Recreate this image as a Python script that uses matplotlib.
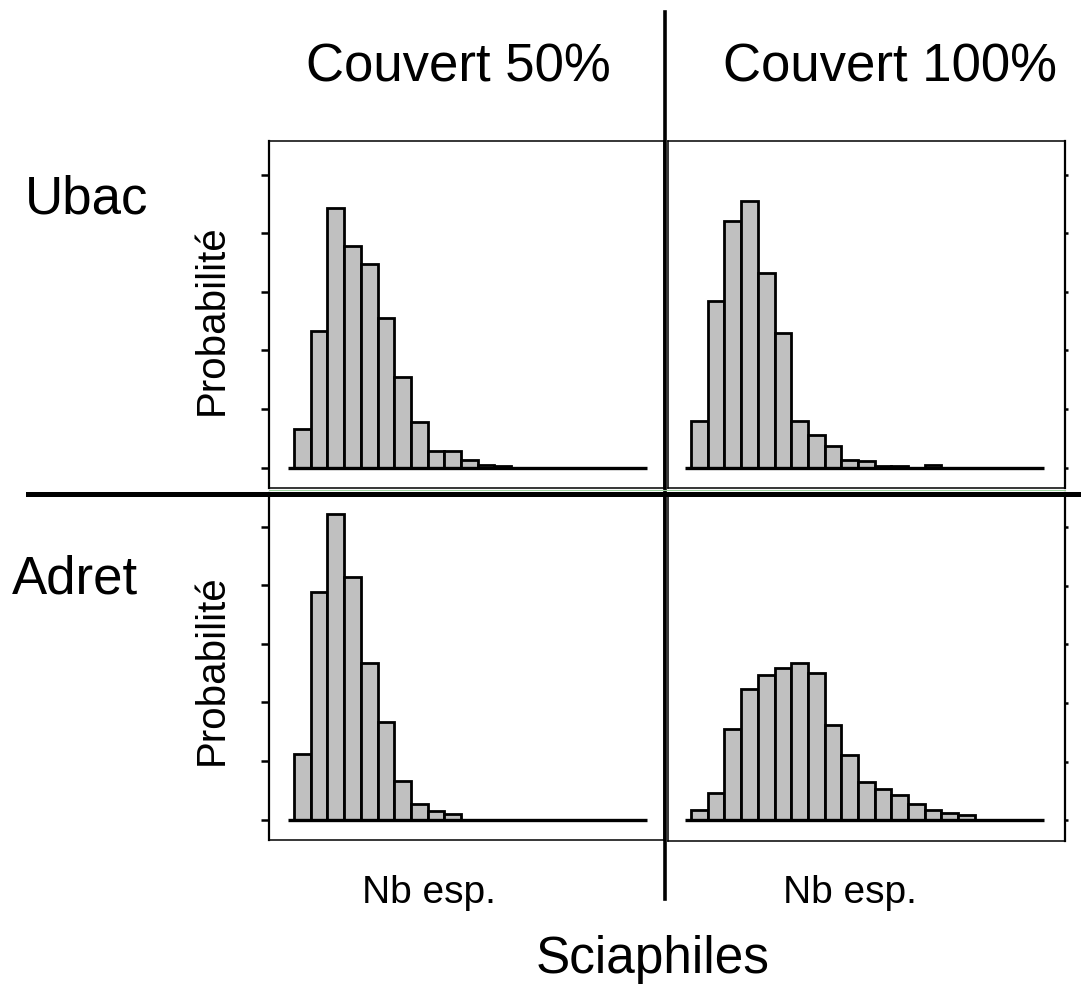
# ---------- IMPORT ------------
import matplotlib
matplotlib.use("Agg")
import matplotlib.pyplot as plt
from matplotlib.lines import Line2D
# ------------------------------


# ---------- DATA --------------
# probability per class of species number (%)
ubac_50 = [3.3, 11.7, 22.2, 18.9, 17.4, 12.8, 7.7, 3.9, 1.4, 1.4, 0.6, 0.2, 0.15]
ubac_100 = [4.0, 14.2, 21.1, 22.8, 16.6, 11.5, 4.0, 2.8, 1.8, 0.65, 0.55, 0.15, 0.15, 0.0, 0.2]
adret_50 = [5.6, 19.4, 26.1, 20.7, 13.4, 8.3, 3.3, 1.35, 0.75, 0.45]
adret_100 = [0.9, 2.35, 7.8, 11.2, 12.4, 13.0, 13.4, 12.6, 8.1, 5.55, 3.3, 2.7, 2.15, 1.4, 0.9, 0.6, 0.45]

col_titles = ["Couvert 50%", "Couvert 100%"]
row_titles = ["Ubac", "Adret"]
y_ticks = [0, 5, 10, 15, 20, 25]
# ------------------------------


# ---------- CONFIG ------------
W, H = 1081, 984
bar_color = "#c0c0c0"
font = "Liberation Sans"
plt.rcParams["font.family"] = [font, "DejaVu Sans"]
# ------------------------------


def fx(px):
    return px / W


def fy(py):
    return 1 - py / H


fig = plt.figure(figsize=(W / 100, H / 100), dpi=100)

# (values, box in pixels: left, top, right, bottom, tick side, xlim)
panels = [
    (ubac_50, (269, 141, 664, 488), "left", (-1.5, 22.15)),
    (ubac_100, (668, 141, 1065, 488), "right", (-1.38, 22.4)),
    (adret_50, (269, 493, 664, 840), "left", (-1.5, 22.15)),
    (adret_100, (668, 493, 1065, 841), "right", (-1.38, 22.4)),
]

for vals, (l, t, r, b), side, xl in panels:
    ax = fig.add_axes([fx(l), fy(b), (r - l) / W, (b - t) / H])
    ax.bar(range(len(vals)), vals, width=1, align="edge", color=bar_color,
           edgecolor="black", linewidth=2.0, zorder=2)
    ax.hlines(0, -0.35, 21.15, color="black", linewidth=2.4, zorder=3)
    ax.set_xlim(*xl)
    ax.set_ylim(-1.75, 27.9)
    ax.set_xticks([])
    ax.set_yticks(y_ticks)
    ax.set_yticklabels([])
    for s in ax.spines.values():
        s.set_linewidth(1.1)
    if side == "left":
        ax.spines["left"].set_linewidth(1.6)
        ax.tick_params(axis="y", left=True, right=False, direction="out",
                       length=5.8, width=1.8, labelleft=False)
    else:
        ax.spines["right"].set_linewidth(1.6)
        ax.tick_params(axis="y", left=False, right=True, direction="out",
                       length=2.5, width=1.8, labelleft=False, labelright=False)

# separators
fig.add_artist(Line2D([fx(665), fx(665)], [fy(12), fy(899)], color="black",
                      linewidth=2.6, transform=fig.transFigure))
fig.add_artist(Line2D([fx(269), fx(1065)], [fy(489.5), fy(489.5)], color="#9ccf9c",
                      linewidth=0.8, transform=fig.transFigure))
fig.add_artist(Line2D([fx(28), fx(1081)], [fy(494), fy(494)], color="black",
                      linewidth=3.6, transform=fig.transFigure))

# texts
fig.text(fx(458), fy(82), col_titles[0], fontsize=38, ha="center", va="baseline")
fig.text(fx(890), fy(82), col_titles[1], fontsize=38, ha="center", va="baseline")
fig.text(fx(25), fy(213), row_titles[0], fontsize=38, ha="left", va="baseline")
fig.text(fx(12), fy(593), row_titles[1], fontsize=38, ha="left", va="baseline")
for yc in (320, 670):
    fig.text(fx(223), fy(yc), "Probabilité", fontsize=29, rotation=90,
             rotation_mode="anchor", ha="center", va="baseline")
fig.text(fx(429), fy(903), "Nb esp.", fontsize=28, ha="center", va="baseline")
fig.text(fx(850), fy(903), "Nb esp.", fontsize=28, ha="center", va="baseline")
fig.text(fx(653), fy(973), "Sciaphiles", fontsize=37, ha="center", va="baseline")

fig.savefig("out.png", dpi=100)
